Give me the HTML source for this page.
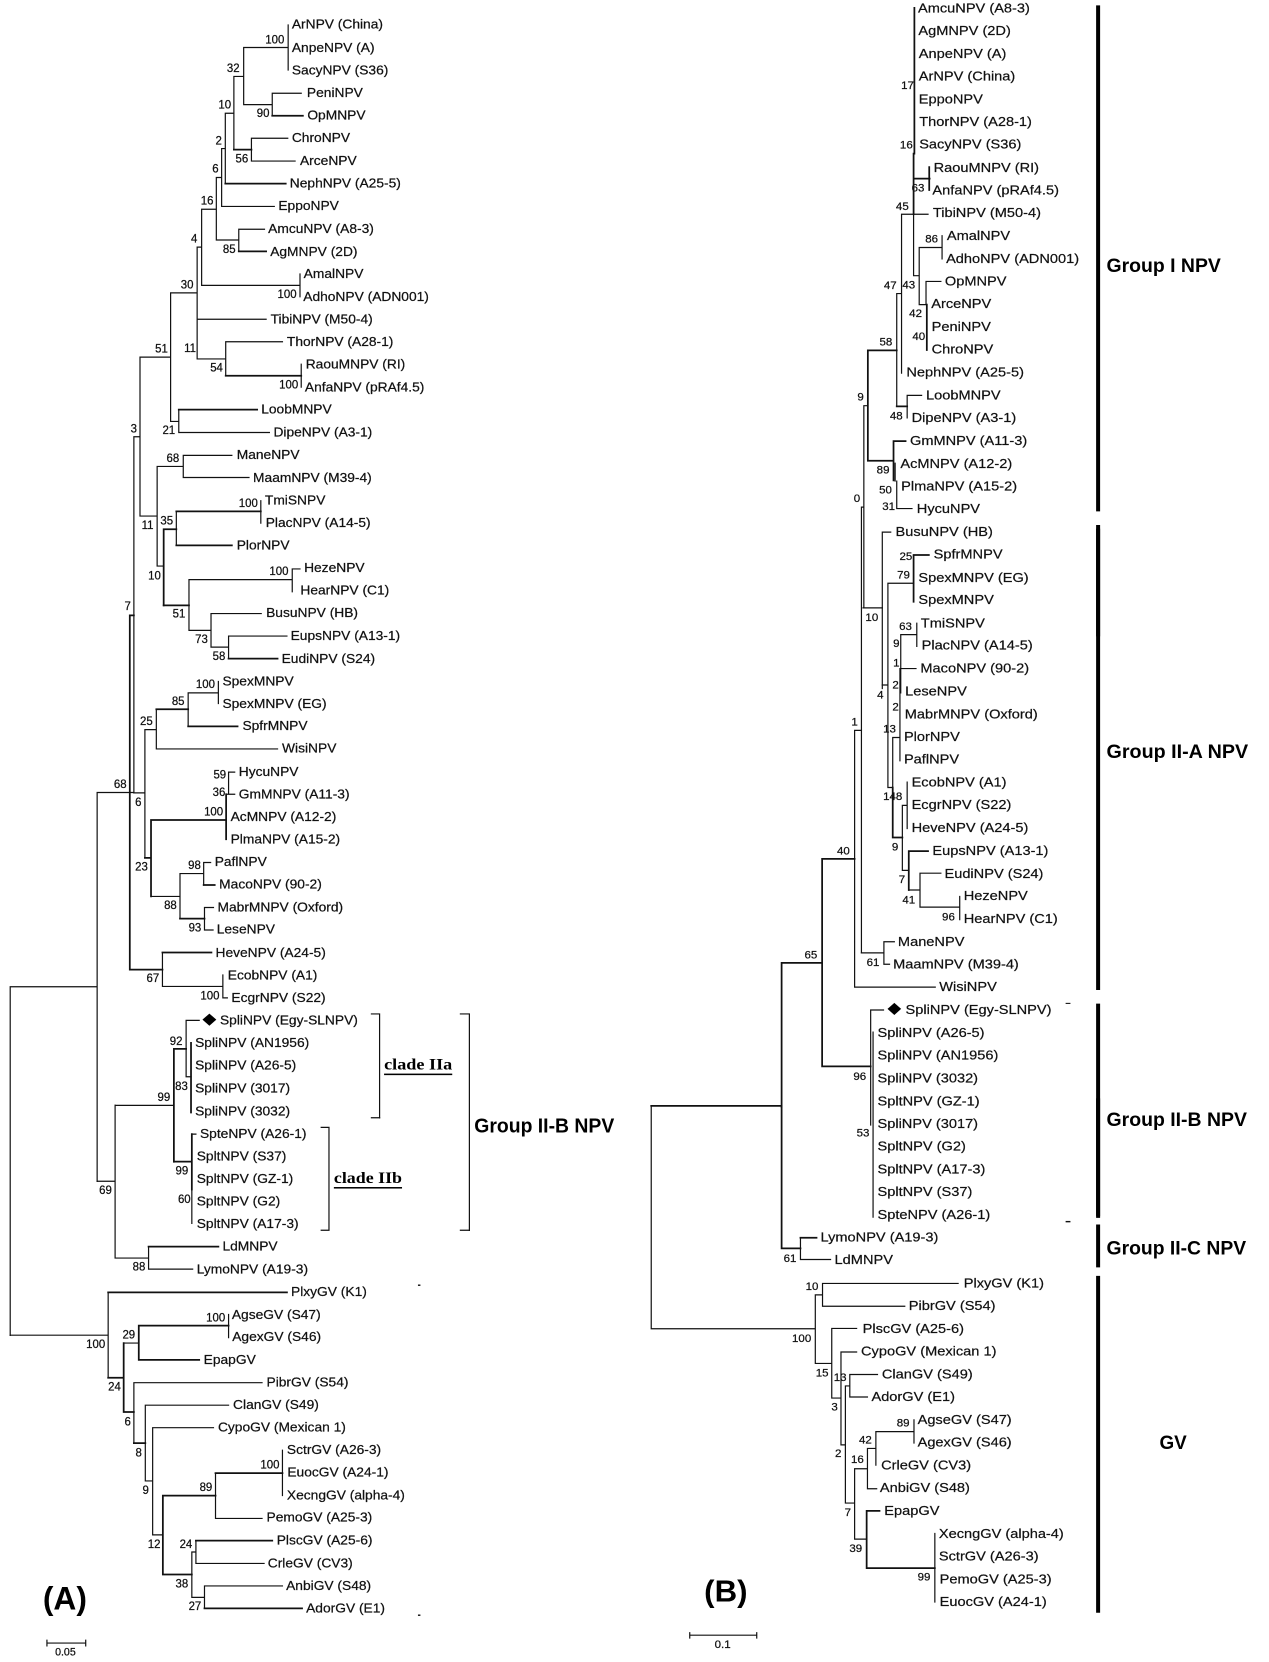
<!DOCTYPE html>
<html><head><meta charset="utf-8"><style>
html,body{margin:0;padding:0;background:#fff}
svg{display:block}
path,line{fill:none;stroke:#111;stroke-width:1.2;vector-effect:non-scaling-stroke;stroke-linecap:square}
path.k{stroke-width:1.75}
path.b{stroke:#000;stroke-width:4;stroke-linecap:butt}
text{font-family:"Liberation Sans",Arial,sans-serif;fill:#111;stroke:#111;stroke-width:.6;dominant-baseline:central;transform-box:fill-box;transform-origin:0 50%}
.L text{font-size:33.8px;transform:scaleY(1.077)}
.L text.n{font-size:28px;transform:scaleY(1.15)}
.R text{font-size:36.4px;transform:scaleY(1.02)}
.R text.n{font-size:28.7px;transform:scaleY(1.12)}
text.g{font-weight:bold;font-size:52px!important;fill:#000;stroke:none}
.R text.g{font-size:54px!important}
text.c{font-family:"Liberation Serif",serif;font-weight:bold;font-size:40px!important;text-decoration:underline;fill:#000;stroke:none}
text.p{font-weight:bold;font-size:84px!important;fill:#000;stroke:none}
</style></head><body>
<svg width="1269" height="1662" viewBox="0 0 1269 1662" xmlns="http://www.w3.org/2000/svg">
<rect width="1269" height="1662" fill="#fff"/>

<g class="L" transform="scale(.40816 .35714)">
<path d="M706 70V196M597 133H706M597 133V293M573 214H597M667 261V324M667 261H738M597 293H667M573 214V419M552 317H573M616 387V451M616 387H705M616 451H723M552 317V514M543 416H552M543 416V578M543 578H672M530 497H543M530 497V672M530 672H585M585 642V704M585 642H648M494 586H530M494 586V799M494 799H735M735 767V831M483 692H494M483 692V1005M483 894H652M418 820H483M483 1005H553M553 957V1052M553 957H692M738 1020V1084M418 820V1180M343 1000H418M418 1180H438M438 1147V1211M438 1211H660M343 1000V1445M328 1223H343M343 1445H385M385 1306V1585M385 1306H449M449 1275V1337M449 1275H568M449 1337H610M385 1585H401M432 1432V1527M639 1402V1465M328 1223V2220"/>
<path class="k" d="M667 324H742M573 419H616M552 514H700M585 704H652M553 1052H738M438 1147H630M432 1432H639M401 1482H432M432 1527H568M401 1482V1695"/>
<text x="715" y="68">ArNPV (China)</text><text x="715" y="133">AnpeNPV (A)</text><text x="715" y="196">SacyNPV (S36)</text><text x="752" y="259">PeniNPV</text><text x="753" y="322">OpMNPV</text><text x="715" y="386">ChroNPV</text><text x="735" y="450">ArceNPV</text><text x="710" y="513">NephNPV (A25-5)</text><text x="682" y="576">EppoNPV</text><text x="657" y="640">AmcuNPV (A8-3)</text><text x="662" y="704">AgMNPV (2D)</text><text x="744" y="766">AmalNPV</text><text x="743" y="830">AdhoNPV (ADN001)</text><text x="663" y="893">TibiNPV (M50-4)</text><text x="703" y="957">ThorNPV (A28-1)</text><text x="749" y="1020">RaouMNPV (RI)</text><text x="747" y="1084">AnfaNPV (pRAf4.5)</text><text x="640" y="1146">LoobMNPV</text><text x="670" y="1210">DipeNPV (A3-1)</text><text x="580" y="1273">ManeNPV</text><text x="620" y="1337">MaamNPV (M39-4)</text><text x="649" y="1400">TmiSNPV</text><text x="651" y="1464">PlacNPV (A14-5)</text><text x="580" y="1526">PlorNPV</text>
<text class="n" x="650" y="113">100</text><text class="n" x="556" y="193">32</text><text class="n" x="535" y="295">10</text><text class="n" x="629" y="319">90</text><text class="n" x="528" y="396">2</text><text class="n" x="577" y="446">56</text><text class="n" x="520" y="474">6</text><text class="n" x="492" y="564">16</text><text class="n" x="546" y="700">85</text><text class="n" x="468" y="670">4</text><text class="n" x="443" y="799">30</text><text class="n" x="680" y="826">100</text><text class="n" x="451" y="977">11</text><text class="n" x="515" y="1032">54</text><text class="n" x="684" y="1080">100</text><text class="n" x="380" y="979">51</text><text class="n" x="398" y="1207">21</text><text class="n" x="320" y="1203">3</text><text class="n" x="408" y="1285">68</text><text class="n" x="347" y="1473">11</text><text class="n" x="393" y="1460">35</text><text class="n" x="585" y="1411">100</text>
</g>

<g class="L" transform="translate(0 550) scale(.40816 .35714)">
<path d="M463 83V225M463 83H716M716 53V117M716 53H735M463 225H517M517 178V272M517 178H640M517 272H560M560 241V304M560 241H703M355 503H383M355 503V862M383 446V557M461 400V494M461 400H535M535 368V430M383 557H680M560 622V684M560 622H575M554 684H575M370 970H441M441 906V1032M441 906H499M499 875V938M499 875H516M501 1001V1064M501 1001H523M501 1064H522M398 1127V1222M398 1222H546M546 1190V1254M546 1254H557M238 679H328M328 680H355M25 1223H238M238 679V1768M25 1223V2199M282 1555H426M456 1317V1475M456 1317H488M456 1475H468M930 1299V1590M910 1299H930M1128 1299H1150M1150 1299V1905"/>
<path class="k" d="M401 155H463M560 304H680M383 446H461M461 494H582M370 756H554M554 684V810M370 756V970M355 862H370M499 938H526M441 1032H501M318 183V1175M318 183H328M318 1175H398M398 1127H518M426 1397H456M426 1397V1713M468 1380V1575"/>
<text x="745" y="49">HezeNPV</text><text x="736" y="113">HearNPV (C1)</text><text x="652" y="176">BusuNPV (HB)</text><text x="712" y="240">EupsNPV (A13-1)</text><text x="690" y="304">EudiNPV (S24)</text><text x="545" y="367">SpexMNPV</text><text x="545" y="430">SpexMNPV (EG)</text><text x="594" y="492">SpfrMNPV</text><text x="691" y="555">WisiNPV</text><text x="585" y="620">HycuNPV</text><text x="585" y="683">GmMNPV (A11-3)</text><text x="565" y="747">AcMNPV (A12-2)</text><text x="565" y="810">PlmaNPV (A15-2)</text><text x="526" y="873">PaflNPV</text><text x="537" y="936">MacoNPV (90-2)</text><text x="533" y="1000">MabrMNPV (Oxford)</text><text x="531" y="1062">LeseNPV</text><text x="528" y="1127">HeveNPV (A24-5)</text><text x="558" y="1190">EcobNPV (A1)</text><text x="567" y="1253">EcgrNPV (S22)</text><text x="539" y="1317">SpliNPV (Egy-SLNPV)</text><text x="478" y="1380">SpliNPV (AN1956)</text><text x="478" y="1443">SpliNPV (A26-5)</text><text x="478" y="1507">SpliNPV (3017)</text>
<text class="n" x="660" y="62">100</text><text class="n" x="363" y="74">10</text><text class="n" x="305" y="160">7</text><text class="n" x="423" y="180">51</text><text class="n" x="478" y="252">73</text><text class="n" x="521" y="300">58</text><text class="n" x="480" y="378">100</text><text class="n" x="421" y="426">85</text><text class="n" x="343" y="482">25</text><text class="n" x="523" y="632">59</text><text class="n" x="521" y="680">36</text><text class="n" x="500" y="735">100</text><text class="n" x="279" y="658">68</text><text class="n" x="331" y="709">6</text><text class="n" x="331" y="889">23</text><text class="n" x="461" y="885">98</text><text class="n" x="402" y="997">88</text><text class="n" x="462" y="1060">93</text><text class="n" x="359" y="1201">67</text><text class="n" x="491" y="1250">100</text><text class="n" x="416" y="1377">92</text><text class="n" x="429" y="1503">83</text><text class="n" x="386" y="1535">99</text>
<polygon points="513,1298 530,1315 513,1332 496,1315" fill="#000"/>
<text class="c" x="941" y="1443" textLength="167" lengthAdjust="spacingAndGlyphs">clade IIa</text>
</g>

<g class="L" transform="translate(0 1102) scale(.40816 .35714)">
<path d="M282 9V437M238 222H282M470 245V340M282 437H364M364 405V468M364 468H472M470 90H480M25 653H265M265 533V772M560 595V660M303 675H340M328 786H642M328 786V955M356 849H560M356 849V1061M356 1061H374M374 912V1212M374 1212H399M374 912H523M528 1039V1166M692 975V1102M528 1166H642M470 1260V1387M470 1260H480M480 1228V1292M480 1292H647M470 1387H501M501 1355V1418M501 1355H692M115 1515H210M115 1507V1523M210 1507V1523M910 44H930M806 71V359M787 71H806M787 359H806M1128 359H1150"/>
<path class="k" d="M426 167H470M470 90V245M364 405H535M265 533H703M265 772H303M303 675V868M340 626V722M340 626H560M340 722H488M303 868H328M356 955H328M399 1102V1323M399 1102H528M528 1039H692M399 1323H470M480 1228H667M501 1418H740"/>
<rect x="1024" y="511" width="6" height="4" fill="#111"/><rect x="1024" y="1435" width="6" height="4" fill="#111"/>
<text x="478" y="25">SpliNPV (3032)</text><text x="490" y="88">SpteNPV (A26-1)</text><text x="482" y="151">SpltNPV (S37)</text><text x="482" y="214">SpltNPV (GZ-1)</text><text x="482" y="277">SpltNPV (G2)</text><text x="482" y="341">SpltNPV (A17-3)</text><text x="545" y="404">LdMNPV</text><text x="482" y="468">LymoNPV (A19-3)</text><text x="713" y="531">PlxyGV (K1)</text><text x="568" y="595">AgseGV (S47)</text><text x="569" y="657">AgexGV (S46)</text><text x="499" y="721">EpapGV</text><text x="653" y="784">PibrGV (S54)</text><text x="571" y="848">ClanGV (S49)</text><text x="534" y="911">CypoGV (Mexican 1)</text><text x="703" y="974">SctrGV (A26-3)</text><text x="704" y="1037">EuocGV (A24-1)</text><text x="703" y="1101">XecngGV (alpha-4)</text><text x="653" y="1163">PemoGV (A25-3)</text><text x="678" y="1227">PlscGV (A25-6)</text><text x="656" y="1291">CrleGV (CV3)</text><text x="701" y="1354">AnbiGV (S48)</text><text x="750" y="1417">AdorGV (E1)</text>
<text class="n" x="430" y="195">99</text><text class="n" x="436" y="274">60</text><text class="n" x="243" y="249">69</text><text class="n" x="325" y="464">88</text><text class="n" x="505" y="606">100</text><text class="n" x="300" y="654">29</text><text class="n" x="211" y="680">100</text><text class="n" x="265" y="799">24</text><text class="n" x="305" y="898">6</text><text class="n" x="332" y="984">8</text><text class="n" x="349" y="1089">9</text><text class="n" x="638" y="1018">100</text><text class="n" x="489" y="1081">89</text><text class="n" x="362" y="1241">12</text><text class="n" x="440" y="1240">24</text><text class="n" x="430" y="1351">38</text><text class="n" x="462" y="1414">27</text><text class="n" x="135" y="1542" style="font-size:26px">0.05</text>
<text class="g" x="1162" y="68" textLength="343" lengthAdjust="spacingAndGlyphs">Group II-B NPV</text>
<text class="c" x="818" y="215" textLength="167" lengthAdjust="spacingAndGlyphs">clade IIb</text>
<text class="p" x="105" y="1392" textLength="108" lengthAdjust="spacingAndGlyphs">(A)</text>
</g>

<g class="R" transform="translate(640 0) scale(.40115 .35714)">
<path d="M652 600H718M652 600V1045M640 822H652M682 600V772M682 772H696M696 693V853M696 693H753M753 660V725M696 853H713M713 788H750M713 788V853M640 822V1138M568 1136H558M666 1107V1170M666 1107H702M636 1297V1347M640 1347V1424M640 1424H678M558 1136V1702M552 1420H558M552 1420V2668M604 1490H625M604 1490V1928"/>
<path class="k" d="M684 22V430M682 430V600M682 500H722M721 468V532M715 853V980M568 981H640M568 981V1290M640 1138H666M568 1290H632M632 1235V1345M632 1235H662"/>
<path class="b" d="M1142 15V1432M1142 1480V1782"/>
<text x="693" y="22">AmcuNPV (A8-3)</text><text x="694" y="85">AgMNPV (2D)</text><text x="695" y="149">AnpeNPV (A)</text><text x="695" y="212">ArNPV (China)</text><text x="695" y="276">EppoNPV</text><text x="696" y="340">ThorNPV (A28-1)</text><text x="696" y="403">SacyNPV (S36)</text><text x="732" y="468">RaouMNPV (RI)</text><text x="729" y="531">AnfaNPV (pRAf4.5)</text><text x="730" y="595">TibiNPV (M50-4)</text><text x="765" y="659">AmalNPV</text><text x="763" y="723">AdhoNPV (ADN001)</text><text x="760" y="786">OpMNPV</text><text x="726" y="849">ArceNPV</text><text x="727" y="913">PeniNPV</text><text x="727" y="977">ChroNPV</text><text x="664" y="1041">NephNPV (A25-5)</text><text x="713" y="1105">LoobMNPV</text><text x="677" y="1169">DipeNPV (A3-1)</text><text x="673" y="1233">GmMNPV (A11-3)</text><text x="649" y="1297">AcMNPV (A12-2)</text><text x="651" y="1360">PlmaNPV (A15-2)</text><text x="690" y="1423">HycuNPV</text><text x="637" y="1488">BusuNPV (HB)</text><text x="732" y="1551">SpfrMNPV</text>
<text class="n" x="651" y="241">17</text><text class="n" x="648" y="408">16</text><text class="n" x="677" y="528">63</text><text class="n" x="638" y="580">45</text><text class="n" x="711" y="671">86</text><text class="n" x="608" y="801">47</text><text class="n" x="654" y="799">43</text><text class="n" x="671" y="879">42</text><text class="n" x="679" y="943">40</text><text class="n" x="597" y="959">58</text><text class="n" x="542" y="1113">9</text><text class="n" x="623" y="1166">48</text><text class="n" x="590" y="1317">89</text><text class="n" x="596" y="1373">50</text><text class="n" x="604" y="1420">31</text><text class="n" x="533" y="1397">0</text><text class="n" x="647" y="1560">25</text>
<text class="g" x="1163" y="745" textLength="285" lengthAdjust="spacingAndGlyphs">Group I NPV</text>
</g>

<g class="R" transform="translate(640 550) scale(.40115 .35714)">
<path d="M556 162H604M604 378H618M618 93V665M618 93H682M650 237V400M650 237H690M690 205V270M650 332H688M648 332V590M630 525H648M630 525V665M618 665H630M654 715V897M654 715H666M666 650V780M654 897H670M670 952H698M698 905V1000M698 905H750M698 1000H797M797 970V1035M552 1128H608M608 1097V1160M608 1097H634M608 1160H622M535 505H552M535 505V1224M535 1224H736M575 1288H607M575 1288V1610M581 1350V1868"/>
<path class="k" d="M682 14V145M682 14H720M630 665V805M630 805H654M670 843V952M670 843H718M454 865H535M454 865V1446M353 1156H454M353 1156V1560M454 1446H575"/>
<path class="b" d="M1142 -70V1232M1142 1270V1870"/>
<rect x="1061" y="1268" width="12" height="3" fill="#111"/>
<polygon points="634,1268 651,1285 634,1302 617,1285" fill="#000"/>
<text x="694" y="76">SpexMNPV (EG)</text><text x="694" y="138">SpexMNPV</text><text x="700" y="203">TmiSNPV</text><text x="702" y="266">PlacNPV (A14-5)</text><text x="699" y="330">MacoNPV (90-2)</text><text x="661" y="394">LeseNPV</text><text x="660" y="458">MabrMNPV (Oxford)</text><text x="658" y="521">PlorNPV</text><text x="658" y="585">PaflNPV</text><text x="677" y="649">EcobNPV (A1)</text><text x="677" y="712">EcgrNPV (S22)</text><text x="677" y="777">HeveNPV (A24-5)</text><text x="729" y="841">EupsNPV (A13-1)</text><text x="759" y="905">EudiNPV (S24)</text><text x="807" y="967">HezeNPV</text><text x="807" y="1031">HearNPV (C1)</text><text x="643" y="1096">ManeNPV</text><text x="631" y="1159">MaamNPV (M39-4)</text><text x="746" y="1221">WisiNPV</text><text x="662" y="1286">SpliNPV (Egy-SLNPV)</text><text x="592" y="1351">SpliNPV (A26-5)</text><text x="592" y="1414">SpliNPV (AN1956)</text><text x="592" y="1478">SpliNPV (3032)</text><text x="592" y="1542">SpltNPV (GZ-1)</text>
<text class="n" x="641" y="72">79</text><text class="n" x="562" y="191">10</text><text class="n" x="646" y="215">63</text><text class="n" x="631" y="263">9</text><text class="n" x="631" y="318">1</text><text class="n" x="629" y="379">2</text><text class="n" x="591" y="407">4</text><text class="n" x="629" y="441">2</text><text class="n" x="606" y="503">13</text><text class="n" x="527" y="483">1</text><text class="n" x="606" y="692">14</text><text class="n" x="638" y="692">8</text><text class="n" x="628" y="833">9</text><text class="n" x="645" y="924">7</text><text class="n" x="654" y="981">41</text><text class="n" x="753" y="1029">96</text><text class="n" x="491" y="844">40</text><text class="n" x="410" y="1135">65</text><text class="n" x="565" y="1156">61</text><text class="n" x="532" y="1475">96</text>
<text class="g" x="1163" y="565" textLength="353" lengthAdjust="spacingAndGlyphs">Group II-A NPV</text>
</g>

<g class="R" transform="translate(640 1102) scale(.40115 .35714)">
<path d="M28 11V635M28 635H437M400 380V441M400 441H475M437 540V732M437 540H455M455 508V570M455 508H793M455 572H660M437 732H478M478 634V829M478 634H540M478 829H501M501 700V960M501 700H540M501 960H512M512 795V1123M512 795H523M523 763V826M523 763H592M523 826H567M512 1123H535M535 1027V1224M535 1027H567M567 970V1083M567 970H588M588 923V1017M588 923H683M683 890V955M567 1083H590M535 1224H565M735 1208V1400M124 1493H291M124 1486V1501M291 1486V1501"/>
<path class="k" d="M28 11H353M353 11V410M353 410H400M400 380H440M565 1145V1305M565 1145H597M565 1305H735"/>
<path class="b" d="M1142 -10V320M1142 343V463M1142 487V1430"/>
<rect x="1061" y="333" width="12" height="4" fill="#111"/>
<text x="592" y="60">SpliNPV (3017)</text><text x="592" y="123">SpltNPV (G2)</text><text x="592" y="187">SpltNPV (A17-3)</text><text x="592" y="250">SpltNPV (S37)</text><text x="592" y="315">SpteNPV (A26-1)</text><text x="450" y="378">LymoNPV (A19-3)</text><text x="485" y="441">LdMNPV</text><text x="807" y="506">PlxyGV (K1)</text><text x="670" y="569">PibrGV (S54)</text><text x="555" y="633">PlscGV (A25-6)</text><text x="551" y="697">CypoGV (Mexican 1)</text><text x="603" y="761">ClanGV (S49)</text><text x="577" y="824">AdorGV (E1)</text><text x="692" y="889">AgseGV (S47)</text><text x="692" y="952">AgexGV (S46)</text><text x="601" y="1016">CrleGV (CV3)</text><text x="598" y="1079">AnbiGV (S48)</text><text x="609" y="1143">EpapGV</text><text x="745" y="1208">XecngGV (alpha-4)</text><text x="745" y="1271">SctrGV (A26-3)</text><text x="747" y="1335">PemoGV (A25-3)</text><text x="747" y="1398">EuocGV (A24-1)</text>
<text class="n" x="540" y="88">53</text><text class="n" x="358" y="439">61</text><text class="n" x="413" y="518">10</text><text class="n" x="379" y="663">100</text><text class="n" x="438" y="760">15</text><text class="n" x="483" y="773">13</text><text class="n" x="477" y="855">3</text><text class="n" x="486" y="986">2</text><text class="n" x="640" y="900">89</text><text class="n" x="546" y="948">42</text><text class="n" x="526" y="1003">16</text><text class="n" x="510" y="1151">7</text><text class="n" x="522" y="1251">39</text><text class="n" x="692" y="1331">99</text><text class="n" x="186" y="1521">0.1</text>
<text class="g" x="1163" y="50" textLength="350" lengthAdjust="spacingAndGlyphs">Group II-B NPV</text>
<text class="g" x="1163" y="410" textLength="348" lengthAdjust="spacingAndGlyphs">Group II-C NPV</text>
<text class="g" x="1295" y="954" textLength="68" lengthAdjust="spacingAndGlyphs">GV</text>
<text class="p" x="160" y="1369" textLength="108" lengthAdjust="spacingAndGlyphs">(B)</text>
</g>
</svg>
</body></html>
